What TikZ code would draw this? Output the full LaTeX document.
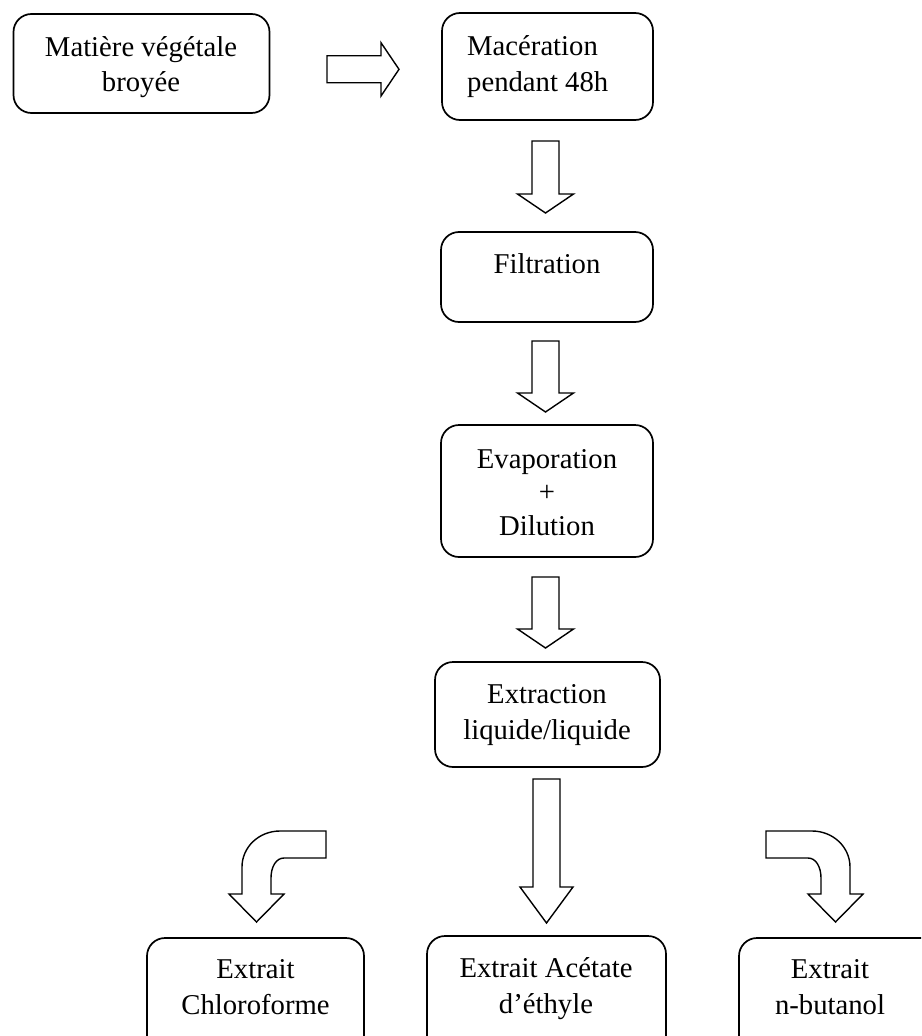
\documentclass[tikz,border=0pt]{standalone}
\usepackage{fontspec}
\setmainfont{Liberation Serif}
\begin{document}
\begin{tikzpicture}[x=1pt,y=-1pt,
  box/.style={draw, line width=1.7pt, rounded corners=18pt, inner sep=0pt},
  txt/.style={inner sep=0pt, align=center},
  blockarrow/.style={draw, line width=1.4pt, line join=miter, fill=white}]
\useasboundingbox (0,0) rectangle (921,1036);
\begin{scope}
\clip (0,0) rectangle (921,1036);
% boxes
\node[box, minimum width=256pt, minimum height=99pt] (b1) at (141.5,63.5) {};
\node[box, minimum width=211pt, minimum height=107pt] (b2) at (547.5,66.5) {};
\node[box, minimum width=212pt, minimum height=90pt] (b3) at (547,277) {};
\node[box, minimum width=212pt, minimum height=132pt] (b4) at (547,491) {};
\node[box, minimum width=225pt, minimum height=105pt] (b5) at (547.5,714.5) {};
\node[box, minimum width=217pt, minimum height=120pt] (b6) at (255.5,998) {};
\node[box, minimum width=239pt, minimum height=120pt] (b7) at (546.5,996) {};
\node[box, minimum width=217pt, minimum height=120pt] (b8) at (847.5,998) {};
% texts
\node[txt, font=\fontsize{28.7}{35}\selectfont] (t1) at (141,66.75) {Matière végétale\\broyée};
\node[txt, align=left, anchor=west, font=\fontsize{28.7}{36}\selectfont] (t2) at (467,66.25) {Macération\\pendant 48h};
\node[txt, font=\fontsize{28.7}{36}\selectfont] (t3) at (547,264.1) {Filtration};
\node[txt, font=\fontsize{28.7}{33.5}\selectfont] (t4) at (547,492.6) {Evaporation\\+\\Dilution};
\node[txt, font=\fontsize{28.7}{36}\selectfont] (t5) at (547,715.25) {Extraction\\liquide/liquide};
\node[txt, font=\fontsize{28.7}{36}\selectfont] (t6) at (255.5,987.2) {Extrait\\Chloroforme};
\node[txt, font=\fontsize{28.7}{36}\selectfont] (t7) at (546,988.25) {Extrait Acétate\\d’éthyle};
\node[txt, font=\fontsize{28.7}{36}\selectfont] (t8) at (830,987.2) {Extrait\\n-butanol};
% block arrows
\draw[blockarrow] (327,55.7) -- (381,55.7) -- (381,42.7) -- (399,69.3) -- (381,96) -- (381,82.7) -- (327,82.7) -- cycle;
\draw[blockarrow] (532,141) -- (559,141) -- (559,194) -- (573.5,194) -- (545.5,213) -- (517.5,194) -- (532,194) -- cycle;
\draw[blockarrow] (532,341) -- (559,341) -- (559,393) -- (573.5,393) -- (545.5,412) -- (517.5,393) -- (532,393) -- cycle;
\draw[blockarrow] (532,577) -- (559,577) -- (559,629) -- (573.5,629) -- (545.5,648) -- (517.5,629) -- (532,629) -- cycle;
\draw[blockarrow] (533,779) -- (560,779) -- (560,887) -- (573,887) -- (546.5,923) -- (520,887) -- (533,887) -- cycle;
% curved arrows
\draw[blockarrow] (326,831) -- (280,831) .. controls (259,831) and (242,847) .. (242,867) -- (242,894) -- (229,894) -- (256.5,922) -- (284,894) -- (271,894) -- (271,878) .. controls (271,867) and (276,858) .. (284,858) -- (326,858) -- cycle;
\draw[blockarrow] (766,831) -- (812,831) .. controls (833,831) and (850,847) .. (850,867) -- (850,894) -- (863,894) -- (835.5,922) -- (808,894) -- (821,894) -- (821,878) .. controls (821,867) and (816,858) .. (808,858) -- (766,858) -- cycle;
\end{scope}
\end{tikzpicture}
\end{document}
